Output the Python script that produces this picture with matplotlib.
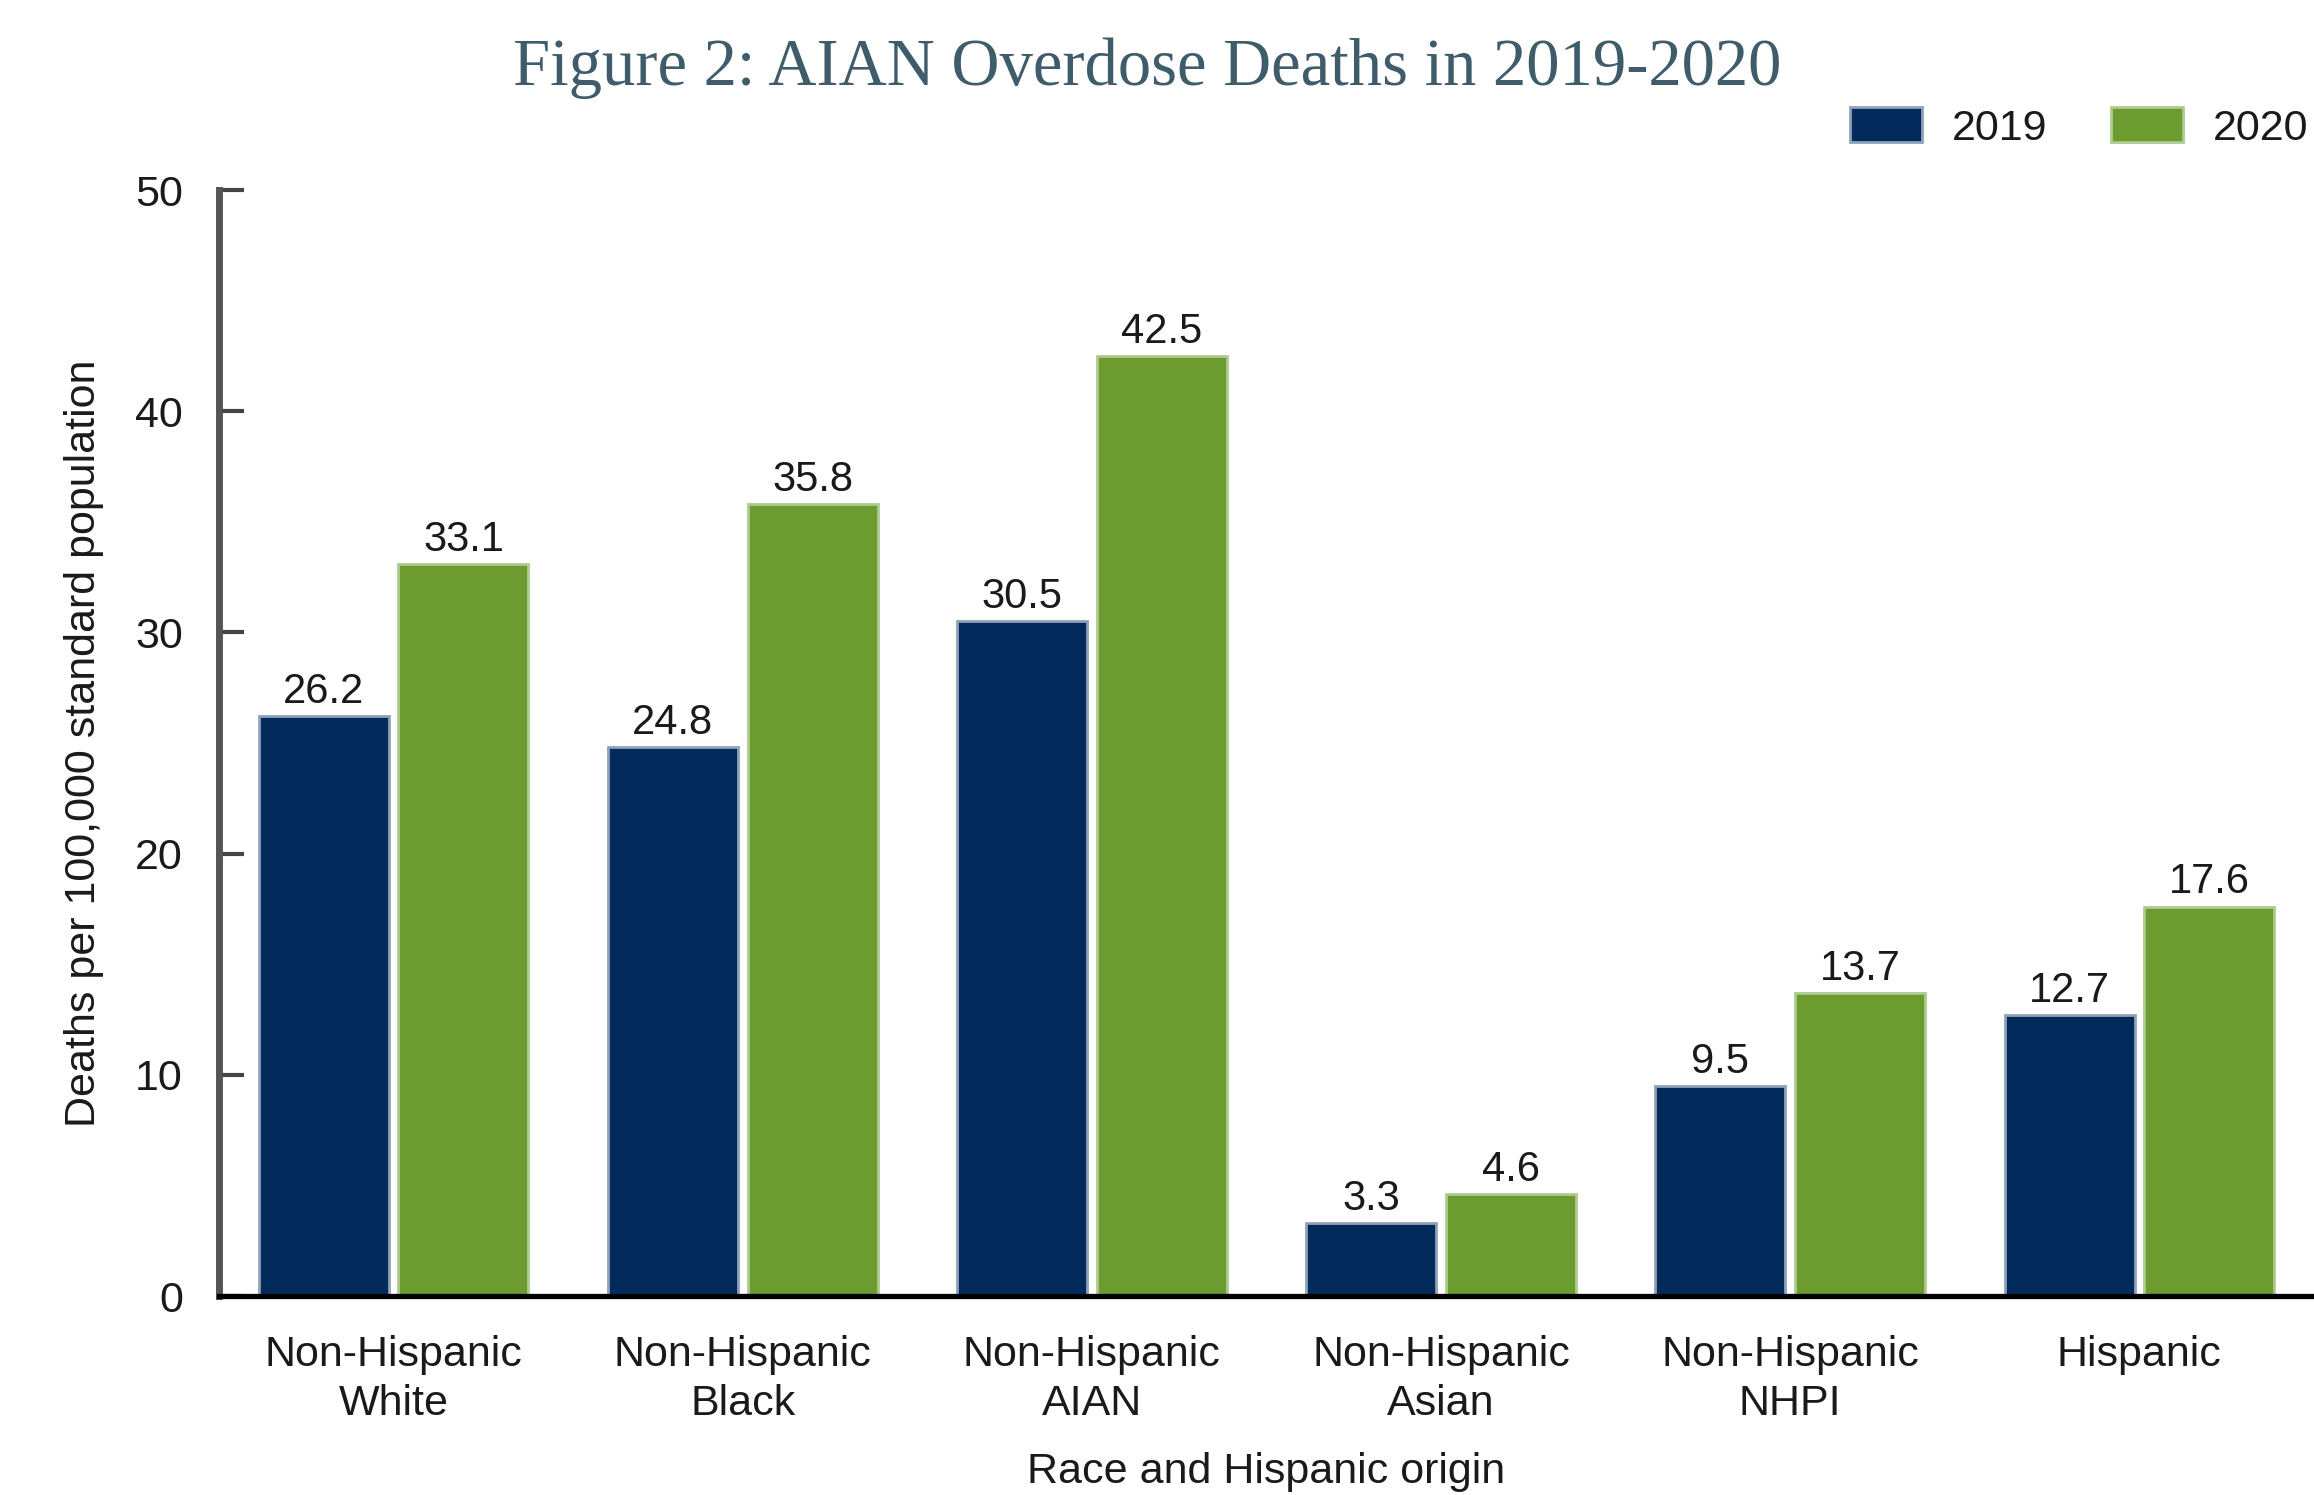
"""Grouped bar chart: AIAN overdose deaths 2019-2020."""

import matplotlib

matplotlib.use("Agg")
import matplotlib.pyplot as plt
import numpy as np

categories = [
    "Non-Hispanic\nWhite",
    "Non-Hispanic\nBlack",
    "Non-Hispanic\nAIAN",
    "Non-Hispanic\nAsian",
    "Non-Hispanic\nNHPI",
    "Hispanic",
]
rates_2019 = [26.2, 24.8, 30.5, 3.3, 9.5, 12.7]
rates_2020 = [33.1, 35.8, 42.5, 4.6, 13.7, 17.6]
series_labels = ["2019", "2020"]
yticks = [0, 10, 20, 30, 40, 50]

NAVY = "#022b5b"
GREEN = "#6c9c30"
TEXT = "#1a1a1a"

plt.rcParams["font.family"] = ["Liberation Sans", "DejaVu Sans"]

fig = plt.figure(figsize=(23.14, 14.95), dpi=100)
ax = fig.add_axes([219 / 2314, 199 / 1495, 1 - 219 / 2314, 1106 / 1495])

x = np.arange(len(categories))
width = 0.372
bars_a = ax.bar(x - 0.2, rates_2019, width, color=NAVY, edgecolor="#8ea2b8",
                linewidth=2, label=series_labels[0], zorder=2)
bars_b = ax.bar(x + 0.2, rates_2020, width, color=GREEN, edgecolor="#aecb90",
                linewidth=2, label=series_labels[1], zorder=2)

for bars in (bars_a, bars_b):
    for rect in bars:
        h = rect.get_height()
        ax.annotate(f"{h:.1f}", (rect.get_x() + rect.get_width() / 2, h),
                    xytext=(0, 9.5), textcoords="offset points",
                    ha="center", va="baseline", fontsize=30, color=TEXT)

ax.set_xlim(-0.5, 5.5)
ax.set_ylim(0, 50)
ax.set_yticks(yticks)
ax.set_xticks(x)
ax.set_xticklabels(categories, fontsize=31, color=TEXT, linespacing=1.3)

for side in ("top", "right"):
    ax.spines[side].set_visible(False)
ax.spines["left"].set_linewidth(5)
ax.spines["left"].set_color("#555555")
ax.spines["bottom"].set_linewidth(3.8)
ax.spines["bottom"].set_color("#000000")
ax.spines["bottom"].set_zorder(3)

ax.tick_params(axis="y", direction="in", length=18, width=3, color="#444444",
               pad=26, labelsize=31, labelcolor=TEXT)
ax.tick_params(axis="x", length=0, pad=28)

ax.set_ylabel("Deaths per 100,000 standard population", fontsize=31, color=TEXT)
ax.yaxis.set_label_coords(-0.055, 0.5)
ax.set_xlabel("Race and Hispanic origin", fontsize=31, color=TEXT)
ax.xaxis.set_label_coords(0.5, -0.141)

fig.text(0.4958, 1 - 85 / 1495, "Figure 2: AIAN Overdose Deaths in 2019-2020",
         ha="center", va="baseline", fontsize=48, color="#3e5c6a",
         family=["Liberation Serif", "DejaVu Serif"])

fig.legend(handles=[bars_a, bars_b], loc="center left",
           bbox_to_anchor=(1850 / 2314, 1 - 128 / 1495), ncol=2, frameon=False,
           fontsize=31, handlelength=1.67, handleheight=0.88, handletextpad=0.7,
           columnspacing=1.47, borderpad=0, borderaxespad=0, labelcolor=TEXT)

fig.savefig("out.png", dpi=100)
